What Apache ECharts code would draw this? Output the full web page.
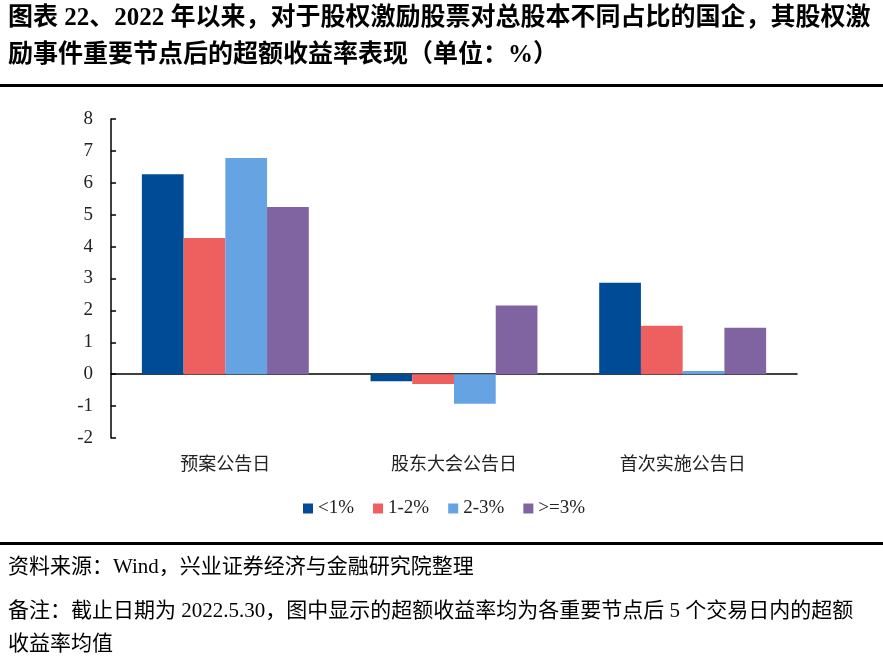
<!DOCTYPE html>
<html><head><meta charset="utf-8">
<script src="https://cdn.jsdelivr.net/npm/echarts@6/dist/echarts.min.js"></script>
<style>html,body{margin:0;padding:0;background:#fff}#c{width:883px;height:660px}</style>
</head><body><div id="c"></div>
<script>
const categories = ['预案公告日', '股东大会公告日', '首次实施公告日'];
const seriesNames = ['<1%', '1-2%', '2-3%', '>=3%'];
const vLess1 = [6.27, -0.22, 2.87];
const v1to2 = [4.27, -0.31, 1.52];
const v2to3 = [6.78, -0.93, 0.10];
const vGe3 = [5.24, 2.15, 1.46];
const colors = ['#004B96', '#EE5F5F', '#66A3E3', '#8064A2'];
const titleLine1 = '图表 22、2022 年以来，对于股权激励股票对总股本不同占比的国企，其股权激';
const titleLine2 = '励事件重要节点后的超额收益率表现（单位：%）';
const source = '资料来源：Wind，兴业证券经济与金融研究院整理';
const note1 = '备注：截止日期为 2022.5.30，图中显示的超额收益率均为各重要节点后 5 个交易日内的超额';
const note2 = '收益率均值';

const serif = '"Liberation Serif", "Noto Sans CJK SC", serif';
const values = [vLess1, v1to2, v2to3, vGe3];
const chart = echarts.init(document.getElementById('c'));
chart.setOption({
  animation: false,
  color: colors,
  grid: { left: 111, right: 86, top: 119, bottom: 222 },
  legend: {
    data: seriesNames, left: 298, top: 494, itemWidth: 10, itemHeight: 10, itemGap: 19,
    icon: 'rect', textStyle: { fontFamily: serif, fontSize: 19, color: '#222' }
  },
  xAxis: [{
    type: 'category', data: categories,
    axisLine: { show: false, onZero: false }, axisTick: { show: false },
    axisLabel: { fontFamily: '"Noto Sans CJK SC"', fontSize: 18, color: '#222', margin: 16 }
  }, {
    type: 'category', data: categories, position: 'bottom',
    axisLine: { show: true, onZero: true, lineStyle: { color: '#000', width: 1.5 } },
    axisTick: { show: false }, axisLabel: { show: false }
  }],
  yAxis: {
    type: 'value', min: -2, max: 8, interval: 1,
    axisLine: { show: true, lineStyle: { color: '#000', width: 1.5 } },
    axisTick: { show: true, inside: true, length: 5, lineStyle: { color: '#000', width: 1.5 } },
    splitLine: { show: false },
    axisLabel: { fontFamily: serif, fontSize: 19, color: '#222', margin: 18 }
  },
  series: seriesNames.map((n, i) => ({
    name: n, type: 'bar', data: values[i], barGap: '0%', barCategoryGap: '27%',
    itemStyle: { color: colors[i] }
  })),
  graphic: [
    { type: 'text', left: 8, top: 6, style: { text: titleLine1, font: 'bold 25px ' + serif, fill: '#000' } },
    { type: 'text', left: 8, top: 43, style: { text: titleLine2, font: 'bold 25px ' + serif, fill: '#000' } },
    { type: 'rect', shape: { x: 0, y: 84, width: 883, height: 3 }, style: { fill: '#000' } },
    { type: 'rect', shape: { x: 0, y: 542, width: 883, height: 3 }, style: { fill: '#000' } },
    { type: 'text', left: 8, top: 557, style: { text: source, font: '21px ' + serif, fill: '#000' } },
    { type: 'text', left: 8, top: 601, style: { text: note1, font: '21px ' + serif, fill: '#000' } },
    { type: 'text', left: 8, top: 634, style: { text: note2, font: '21px ' + serif, fill: '#000' } }
  ]
});
</script></body></html>
